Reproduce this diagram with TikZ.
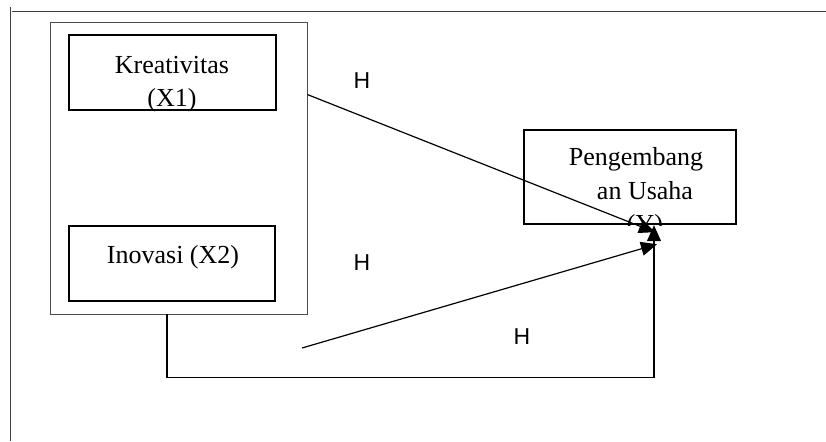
\documentclass[tikz,border=0pt]{standalone}
\usepackage{fontspec}
\setmainfont{Liberation Serif}
\newfontfamily\hsans{Liberation Sans}
\usetikzlibrary{arrows.meta}
\begin{document}
\begin{tikzpicture}[x=0.5pt,y=-0.5pt,
  frame/.style={draw=black!75,line width=0.5pt},
  grpbox/.style={draw=black!70,line width=0.45pt,inner sep=0pt},
  varbox/.style={draw=black,line width=1.2pt,inner sep=0pt},
  txt/.style={inner sep=0pt,font=\fontsize{13}{16}\selectfont},
  hlab/.style={inner sep=0pt,font=\hsans\fontsize{11.5}{13}\selectfont},
  conn/.style={draw=black,line width=0.6pt},
  arr/.style={conn,-{Triangle[length=8pt,width=7pt]}}]
\useasboundingbox (0,0) rectangle (826,441);
% outer frame
\draw[frame] (12,11) -- (826,11);
\draw[frame] (10,7) -- (10,441);
% group box
\node[grpbox,minimum width=128.5pt,minimum height=146pt] (grp) at (178.5,168) {};
% variable boxes
\node[varbox,minimum width=103.5pt,minimum height=37.5pt] (kb) at (172.5,72.5) {};
\node[varbox,minimum width=103pt,minimum height=37.5pt] (ib) at (172,263.5) {};
\node[txt,anchor=base] (kt1) at (172,73) {Kreativitas};
\node[txt,anchor=base] (kt2) at (172,106) {(X1)};
\node[txt,anchor=base] (it) at (173,263) {Inovasi (X2)};
\node[txt,anchor=base] (yt1) at (636,165) {Pengembang};
\node[txt,anchor=base] (yt2) at (645,199) {an Usaha};
\begin{scope}
\clip (524,130) rectangle (736,225);
\node[txt,anchor=base] (yt3) at (645,232) {(Y)};
\end{scope}
\node[varbox,minimum width=106pt,minimum height=47pt] (yb) at (630,177) {};
% H labels
\node[hlab] (h1) at (362,81) {H};
\node[hlab] (h2) at (362,263) {H};
\node[hlab] (h3) at (522,337) {H};
% connector coordinates
\path (grp.north east) ++(0,73) coordinate (s1);
\path (yb.south) ++(25,7) coordinate (t1);
\coordinate (s2) at (302,348);
\path (yb.south) ++(27,19) coordinate (t2);
\path (grp.south) ++(-11.5,0) coordinate (s3);
\path (yb.south) ++(24,0) coordinate (t3);
% connectors
\draw[arr] (s1) -- (t1);
\draw[arr] (s2) -- (t2);
\draw[arr] (s3) -- ++(0,63) -| (t3);
\end{tikzpicture}
\end{document}
